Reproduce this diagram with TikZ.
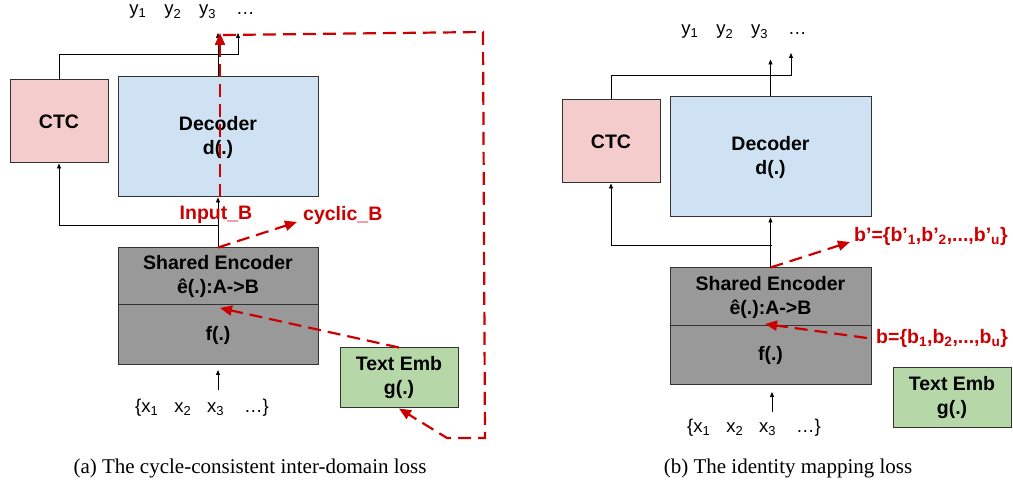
\documentclass[tikz,border=0pt]{standalone}
\usepackage{fontspec}
\setmainfont{Liberation Serif}
\setsansfont{Liberation Sans}
\usetikzlibrary{arrows.meta,positioning,calc}
\definecolor{ctcred}{HTML}{F4CCCC}
\definecolor{decblue}{HTML}{CFE2F3}
\definecolor{encgray}{HTML}{999999}
\definecolor{embgreen}{HTML}{B6D7A8}
\definecolor{lossred}{HTML}{CC0000}
\tikzstyle{block}=[draw=black!80,line width=1pt,inner sep=0pt,align=center,font=\sffamily\bfseries\fontsize{19.5}{24}\selectfont]
\tikzstyle{flow}=[line width=0.8pt,-{Triangle[length=5pt,width=4pt]}]
\tikzstyle{loss}=[lossred,line width=2.2pt,dash pattern=on 13pt off 7pt]
\tikzstyle{losstip}=[-{Triangle[length=12pt,width=10pt]}]
\tikzstyle{seq}=[font=\sffamily\fontsize{18.5}{22}\selectfont,inner sep=0pt]
\tikzstyle{redlbl}=[text=lossred,font=\sffamily\bfseries\fontsize{19.5}{22}\selectfont,inner sep=0pt]
\tikzstyle{caption}=[font=\fontsize{21}{24}\selectfont,inner sep=0pt]

\begin{document}
\begin{tikzpicture}[x=1pt,y=-1pt]
\useasboundingbox (0,0) rectangle (1013,486);

% (a)
\node[block,fill=ctcred,minimum width=98pt,minimum height=83pt] (ctcA) at (59,121.5) {CTC};
\node[block,fill=decblue,minimum width=200pt,minimum height=120pt] (decA) at (218,137) {Decoder\\d(.)};
\node[block,fill=encgray,minimum width=200pt,minimum height=57pt] (encA) at (218,276.5) {Shared Encoder\\ê(.):A->B};
\node[block,fill=encgray,minimum width=200pt,minimum height=60pt] (fA) at (218,335) {f(.)};
\node[block,fill=embgreen,minimum width=118pt,minimum height=60pt] (embA) at (399,378) {Text Emb\\g(.)};
\node[seq] (yA) at (192,12) {y\textsubscript{1}\hspace{18pt}y\textsubscript{2}\hspace{18pt}y\textsubscript{3}\hspace{20pt}\ldots};
\node[seq] (xA) at (202,408) {\{x\textsubscript{1}\hspace{16pt}x\textsubscript{2}\hspace{16pt}x\textsubscript{3}\hspace{20pt}\ldots\}};
\node[caption] (capA) at (250,468) {(a) The cycle-consistent inter-domain loss};

\coordinate (brA) at (218,225);
\coordinate (outA) at (238,33);
\coordinate (inA) at (218,390);
\draw[flow] (encA.north) -- (decA.south);
\draw[flow] (brA) -| (ctcA.south);
\draw[flow] (ctcA.north) -- ++(0,-25) -| (outA);
\draw[flow] (decA.north) -- (decA.north |- outA);
\draw[flow] (inA) -- ++(0,-20);

\coordinate (topA) at (220,33);
\coordinate (startA) at (223,35);
\coordinate (c1) at (483,32);
\coordinate (c2) at (485,438);
\coordinate (c3) at (447,438);
\coordinate (hitA) at (220,308);
\coordinate (cycA) at (297,222);
\draw[loss,losstip] (decA.south -| topA) -- (topA);
\draw[loss,losstip] (startA) -- (c1) -- (c2) -- (c3) -- (embA.south);
\draw[loss,losstip] (embA.north) -- (hitA);
\draw[loss,losstip] (encA.north) -- (cycA);
\node[redlbl] (inpB) at (216,215) {Input\_B};
\node[redlbl,anchor=west] (cycB) at (303,215) {cyclic\_B};

% (b)
\node[block,fill=ctcred,minimum width=98pt,minimum height=83pt] (ctcB) at (611,141.5) {CTC};
\node[block,fill=decblue,minimum width=201pt,minimum height=120pt] (decB) at (770.5,157) {Decoder\\d(.)};
\node[block,fill=encgray,minimum width=201pt,minimum height=58pt] (encB) at (770.5,297) {Shared Encoder\\ê(.):A->B};
\node[block,fill=encgray,minimum width=201pt,minimum height=59pt] (fB) at (770.5,355.5) {f(.)};
\node[block,fill=embgreen,minimum width=118pt,minimum height=60pt] (embB) at (952,398) {Text Emb\\g(.)};
\node[seq] (yB) at (744,32) {y\textsubscript{1}\hspace{18pt}y\textsubscript{2}\hspace{18pt}y\textsubscript{3}\hspace{20pt}\ldots};
\node[seq] (xB) at (754,428) {\{x\textsubscript{1}\hspace{16pt}x\textsubscript{2}\hspace{16pt}x\textsubscript{3}\hspace{20pt}\ldots\}};
\node[caption] (capB) at (788,468) {(b) The identity mapping loss};

\coordinate (brB) at (772,245);
\coordinate (outB) at (791,53);
\coordinate (inB) at (772,412);
\draw[flow] (encB.north) -- (decB.south);
\draw[flow] (brB) -| (ctcB.south);
\draw[flow] (ctcB.north) -- ++(0,-24) -| (outB);
\draw[flow] (decB.north) -- ++(0,-37);
\draw[flow] (inB) -- ++(0,-20);

\node[redlbl,anchor=west] (bpB) at (854,236) {b’=\{b’\textsubscript{1},b’\textsubscript{2},...,b’\textsubscript{u}\}};
\node[redlbl,anchor=west] (bB) at (876,338) {b=\{b\textsubscript{1},b\textsubscript{2},...,b\textsubscript{u}\}};
\coordinate (idB) at (850,242);
\coordinate (hitB) at (765,324);
\draw[loss,losstip] (encB.north) -- (idB);
\draw[loss,losstip] (bB.west) ++(-9,0) -- (hitB);
\end{tikzpicture}
\end{document}
